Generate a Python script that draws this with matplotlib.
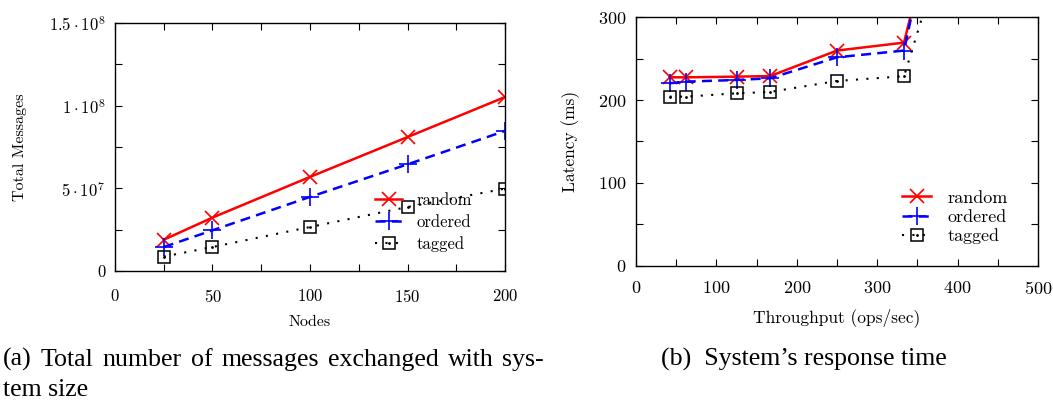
import numpy as np
import matplotlib
matplotlib.use('Agg')
import matplotlib.pyplot as plt
from matplotlib.ticker import FixedLocator, FixedFormatter

plt.rcParams['font.family'] = 'serif'
plt.rcParams['font.serif'] = ['cmr10']
plt.rcParams['mathtext.fontset'] = 'cm'
plt.rcParams['axes.formatter.use_mathtext'] = True

# (a) total messages vs system size
nodes = [25, 50, 100, 150, 200]
msg_random = [18.9e6, 32.3e6, 56.9e6, 81.0e6, 105.2e6]
msg_ordered = [14.5e6, 24.6e6, 44.8e6, 64.5e6, 84.7e6]
msg_tagged = [8.7e6, 14.5e6, 26.6e6, 38.7e6, 49.8e6]

# (b) latency vs throughput (last point runs off the top of the chart)
thr = [41.7, 62.5, 125, 166.7, 250, 333.3, 350]
thr_tagged = [41.7, 62.5, 125, 166.7, 250, 333.3, 360]
lat_random = [227.5, 227.5, 228.3, 229.0, 259.8, 269.4, 335]
lat_ordered = [220.3, 222.3, 224.3, 226.3, 251.7, 259.8, 335]
lat_tagged = [204.2, 204.2, 208.2, 209.8, 223.1, 228.8, 313]

series_names = ['random', 'ordered', 'tagged']

fig = plt.figure(figsize=(10.53, 4.01), dpi=100)
ax1 = fig.add_axes([0.1092, 0.3242, 0.3704, 0.6185])
ax2 = fig.add_axes([0.604, 0.3374, 0.3818, 0.6195])


def draw(ax, xs, ys):
    l1, = ax.plot(xs[0], ys[0], color='#ff0000', lw=1.8, marker='x', ms=10, mew=1.2)
    l2, = ax.plot(xs[1], ys[1], color='#0000ff', lw=1.8, ls=(0, (4, 2.5)), marker='+', ms=13, mew=1.2)
    l3, = ax.plot(xs[2], ys[2], color='black', lw=1.5, ls=(0, (1, 4)), marker='s', ms=9, mfc='none', mew=1.1)
    d3, = ax.plot(xs[2], ys[2], ls='none', color='black', marker='.', ms=2)
    return [l1, l2, (l3, d3)]


def style(ax, fs, pad):
    ax.tick_params(which='both', direction='in', top=True, right=True, length=5, width=0.8, labelsize=fs)
    ax.tick_params(axis='y', pad=7)
    ax.tick_params(axis='x', pad=pad)
    for s in ax.spines.values():
        s.set_linewidth(1.0)


h1 = draw(ax1, [nodes] * 3, [msg_random, msg_ordered, msg_tagged])
ax1.set_xlim(0, 200)
ax1.set_ylim(0, 1.5e8)
ax1.xaxis.set_major_locator(FixedLocator([0, 50, 100, 150, 200]))
ax1.xaxis.set_minor_locator(FixedLocator([25, 75, 125, 175]))
ax1.yaxis.set_major_locator(FixedLocator([0, 5e7, 1e8, 1.5e8]))
ax1.yaxis.set_major_formatter(FixedFormatter(['0', r'$5\cdot10^{7}$', r'$1\cdot10^{8}$', r'$1.5\cdot10^{8}$']))
ax1.yaxis.set_minor_locator(FixedLocator([2.5e7, 7.5e7, 1.25e8]))
style(ax1, 12, 12)
ax1.set_xlabel('Nodes', fontsize=11.5, labelpad=8)
ax1.set_ylabel('Total Messages', fontsize=11.5, labelpad=16)
ax1.legend(h1, series_names, loc='lower right', bbox_to_anchor=(0.955, 0.016), frameon=False,
           fontsize=12, handlelength=1.6, handletextpad=0.9, labelspacing=0.4)

h2 = draw(ax2, [thr, thr, thr_tagged], [lat_random, lat_ordered, lat_tagged])
ax2.set_xlim(0, 500)
ax2.set_ylim(0, 300)
ax2.xaxis.set_major_locator(FixedLocator([0, 100, 200, 300, 400, 500]))
ax2.xaxis.set_minor_locator(FixedLocator([50, 150, 250, 350, 450]))
ax2.yaxis.set_major_locator(FixedLocator([0, 100, 200, 300]))
ax2.yaxis.set_minor_locator(FixedLocator([50, 150, 250]))
style(ax2, 13, 10)
ax2.set_xlabel('Throughput (ops/sec)', fontsize=12.5, labelpad=8)
ax2.set_ylabel('Latency (ms)', fontsize=12.5, labelpad=13)
ax2.legend(h2, series_names, loc='lower right', bbox_to_anchor=(0.965, 0.02), frameon=False,
           fontsize=13, handlelength=1.6, handletextpad=0.9, labelspacing=0.2)

# captions (first line of (a) is justified like the LaTeX original)
cap = dict(family='Liberation Serif', fontsize=18.6, va='baseline', ha='left')


def justified(words, x0, x1, y):
    fig.canvas.draw()
    r = fig.canvas.get_renderer()
    ts = [fig.text(0, y, w, **cap) for w in words]
    widths = [t.get_window_extent(r).width for t in ts]
    gap = (x1 - x0 - sum(widths)) / (len(words) - 1)
    x = x0
    for t, w in zip(ts, widths):
        t.set_x(x / 1053)
        x += w + gap


justified('(a) Total number of messages exchanged with sys-'.split(), 3, 544, 1 - 366 / 401)
fig.text(3 / 1053, 1 - 396 / 401, 'tem size', **cap)
fig.text(661 / 1053, 1 - 366 / 401, '(b)  System\u2019s response time', **cap)

fig.savefig('out.png', dpi=100)
